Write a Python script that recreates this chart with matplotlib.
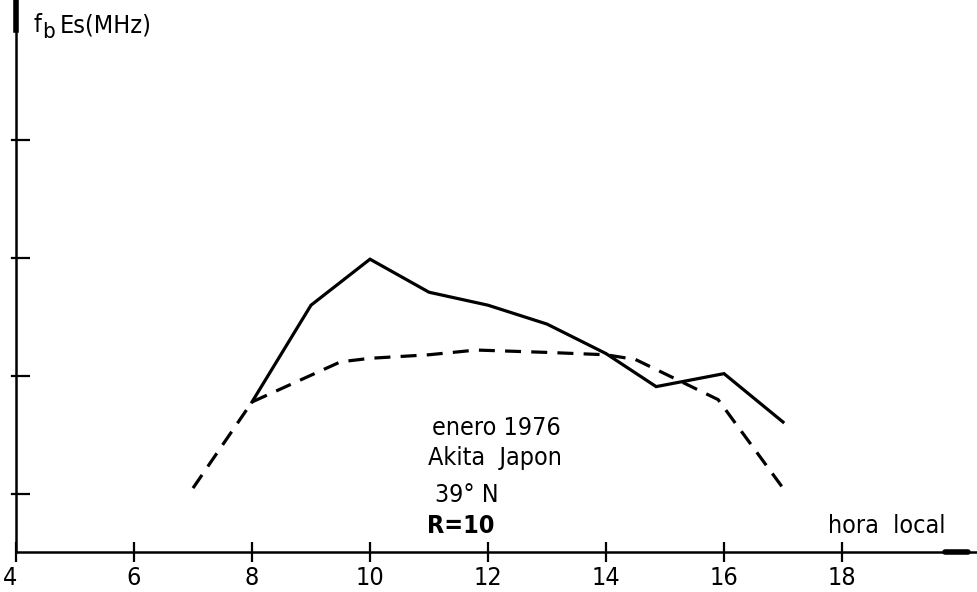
import matplotlib
matplotlib.use("Agg")
import matplotlib.pyplot as plt
from matplotlib.lines import Line2D
import matplotlib.transforms as mtransforms

# ---- data ----
solid_x = [8, 9, 10, 11, 12, 13, 14, 14.85, 16, 17]
solid_y = [1.78, 2.60, 2.99, 2.71, 2.60, 2.44, 2.19, 1.91, 2.02, 1.61]

dashed_x = [7, 8, 9.5, 10, 11, 11.8, 13, 14, 14.5, 15.9, 17]
dashed_y = [1.05, 1.78, 2.12, 2.15, 2.18, 2.22, 2.20, 2.18, 2.14, 1.80, 1.05]

x_ticks = [4, 6, 8, 10, 12, 14, 16, 18]
x_tick_labels = ["4", "6", "8", "10", "12", "14", "16", "18"]
y_ticks = [1, 2, 3, 4]
y_tick_labels = ["", "2", "", ""]

W, H = 977, 592
FONT = dict(family="DejaVu Sans", stretch="condensed")

fig = plt.figure(figsize=(W / 100, H / 100), dpi=100)
fig.patch.set_facecolor("white")

# axes geometry in pixels
ax_left, ax_bottom = 16, 552          # pixel of origin
px_per_x, px_per_y = 59.0, 118.0
x0 = 4.0
y_at_494 = 1.0
xmax = x0 + (W - ax_left) / px_per_x
ymin = y_at_494 - (ax_bottom - 494) / px_per_y
ymax = y_at_494 + 494 / px_per_y

ax = fig.add_axes([ax_left / W, (H - ax_bottom) / H, (W - ax_left) / W, ax_bottom / H])
ax.set_xlim(x0, xmax)
ax.set_ylim(ymin, ymax)
ax.patch.set_alpha(0)

for s in ["top", "right"]:
    ax.spines[s].set_visible(False)
ax.spines["left"].set_linewidth(1.8)
ax.spines["bottom"].set_linewidth(1.8)

ax.plot(solid_x, solid_y, color="black", lw=2.3, solid_joinstyle="miter")
ax.plot(dashed_x, dashed_y, color="black", lw=2.3, linestyle=(0, (5.0, 3.2)))

ax.set_xticks(x_ticks)
ax.set_xticklabels(x_tick_labels, **FONT, fontsize=18)
ax.set_yticks(y_ticks)
ax.set_yticklabels(y_tick_labels, **FONT, fontsize=18)
ax.tick_params(axis="x", direction="inout", length=14, width=1.6, pad=3)
ax.tick_params(axis="y", direction="in", length=10, width=1.6, pad=12)

# short outer part of the y ticks (ticks cross the axis asymmetrically)
for yt in y_ticks:
    ax.add_line(Line2D([x0 - 4 / px_per_x, x0], [yt, yt], color="black", lw=1.6, clip_on=False))

# shift the "4" label slightly left like in the reference
lbl4 = ax.get_xticklabels()[0]
lbl4.set_transform(lbl4.get_transform() + mtransforms.ScaledTranslation(-6 / 100, 0, fig.dpi_scale_trans))

# thick top of the y axis and arrow tip of the x axis
ax.add_line(Line2D([x0, x0], [ymax - 30 / px_per_y, ymax], color="black", lw=4.0, clip_on=False))
ax.add_line(Line2D([x0 + (945 - ax_left) / px_per_x, x0 + (968 - ax_left) / px_per_x],
                   [ymin, ymin], color="black", lw=4.0, clip_on=False, solid_capstyle="round"))

def ft(px, py, s, size=18, weight="normal", va="baseline"):
    fig.text(px / W, 1 - py / H, s, fontsize=size, fontweight=weight, va=va, ha="left", **FONT)

ft(432, 435, "enero 1976")
ft(428, 465, "Akita  Japon")
ft(435, 502, "39° N")
ft(427, 533, "R=10", weight="bold")
ft(828, 533, "hora  local")

# y label f_b Es(MHz)
ft(33, 32, "f", size=18)
ft(42, 38, "b", size=16)
ft(60, 32, "Es(MHz)", size=18)

fig.savefig("out.png", dpi=100, facecolor="white")
